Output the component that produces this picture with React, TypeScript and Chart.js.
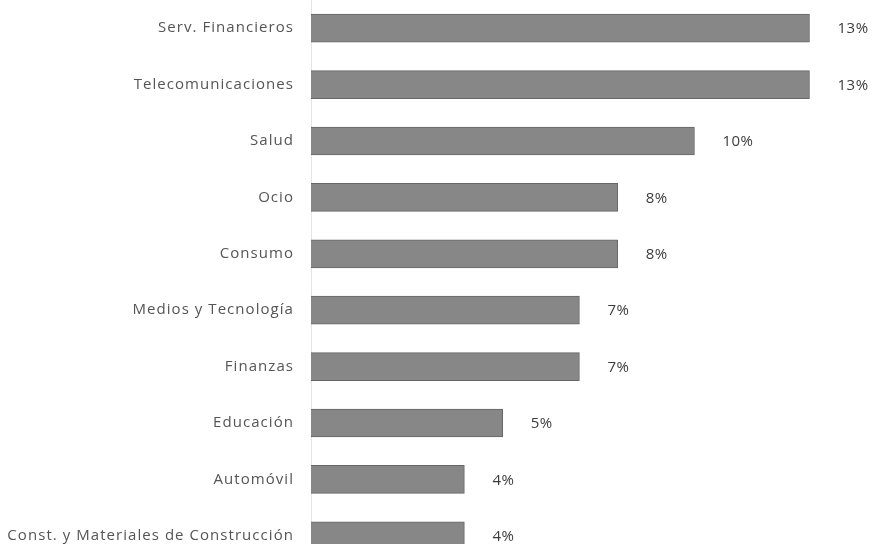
import React, { useEffect, useRef } from "react";
import { Chart, registerables } from "chart.js";

Chart.register(...registerables);

const categories = [
  "Serv. Financieros",
  "Telecomunicaciones",
  "Salud",
  "Ocio",
  "Consumo",
  "Medios y Tecnología",
  "Finanzas",
  "Educación",
  "Automóvil",
  "Const. y Materiales de Construcción",
];
const values = [13, 13, 10, 8, 8, 7, 7, 5, 4, 4];
const valueLabels = ["13%", "13%", "10%", "8%", "8%", "7%", "7%", "5%", "4%", "4%"];

const FONT = "'Open Sans', 'Liberation Sans', sans-serif";

const spacingPlugin = {
  id: "spacing",
  beforeDraw(chart: any) {
    chart.ctx.letterSpacing = "1.05px";
  },
};

const valueLabelPlugin = {
  id: "valueLabels",
  afterDatasetsDraw(chart: any) {
    const { ctx } = chart;
    const meta = chart.getDatasetMeta(0);
    ctx.save();
    ctx.letterSpacing = "0.5px";
    ctx.font = `15px ${FONT}`;
    ctx.fillStyle = "#3c3c3c";
    ctx.textAlign = "left";
    ctx.textBaseline = "middle";
    meta.data.forEach((bar: any, i: number) => {
      ctx.fillText(valueLabels[i], bar.x + 28, bar.y + 1);
    });
    ctx.restore();
  },
};

export default function App() {
  const ref = useRef<HTMLCanvasElement | null>(null);
  useEffect(() => {
    if (!ref.current) return;
    const chart = new Chart(ref.current, {
      type: "bar",
      data: {
        labels: categories,
        datasets: [
          {
            data: values,
            backgroundColor: "#878787",
            borderColor: "#666666",
            borderWidth: 1,
            barThickness: 28,
          },
        ],
      },
      options: {
        indexAxis: "y",
        responsive: false,
        animation: false,
        layout: { padding: { left: 0, right: 15, top: 0, bottom: 0 } },
        plugins: { legend: { display: false }, tooltip: { enabled: false } },
        scales: {
          x: { display: false, min: 0, max: 14.5 },
          y: {
            afterFit(scale: any) {
              scale.width = 311;
              scale.paddingTop = 0;
              scale.paddingBottom = 0;
            },
            grid: { display: false, drawTicks: false },
            border: { display: true, color: "#e4e4e4", width: 1 },
            ticks: {
              padding: 17,
              color: "#555555",
              font: { size: 15, family: FONT },
            },
          },
        },
      },
      plugins: [spacingPlugin, valueLabelPlugin],
    });
    return () => chart.destroy();
  }, []);
  return (
    <div
      style={{
        position: "fixed",
        left: 0,
        top: 0,
        width: 882,
        height: 544,
        overflow: "hidden",
        background: "#fff",
      }}
    >
      <canvas ref={ref} width={882} height={564} style={{ width: 882, height: 564 }} />
    </div>
  );
}
